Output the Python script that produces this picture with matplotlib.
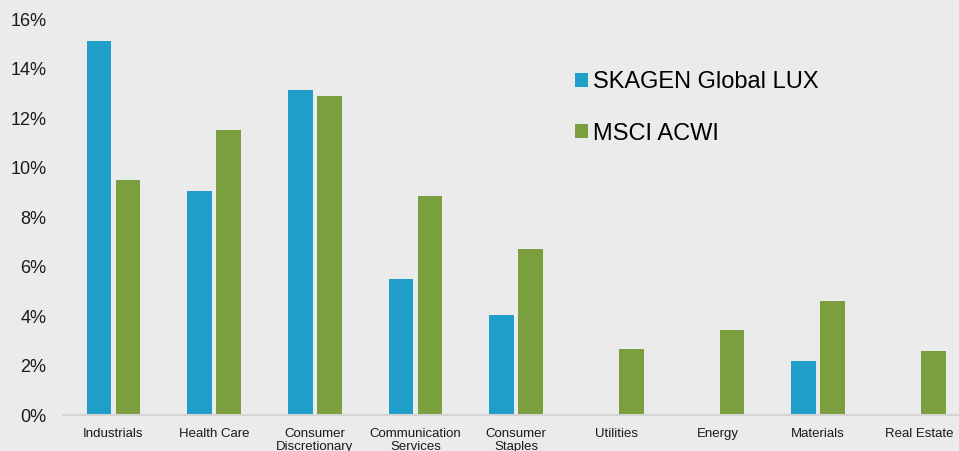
import matplotlib.pyplot as plt
import numpy as np

plt.rcParams['font.family'] = ['Liberation Sans', 'DejaVu Sans']

# Sector weights (%)
sectors = ['Industrials', 'Health Care', 'Consumer\nDiscretionary', 'Communication\nServices',
           'Consumer\nStaples', 'Utilities', 'Energy', 'Materials', 'Real Estate']
skagen = [15.1, 9.05, 13.15, 5.5, 4.05, 0, 0, 2.2, 0]
msci = [9.5, 11.5, 12.9, 8.85, 6.7, 2.65, 3.42, 4.62, 2.6]

bg = '#ebebeb'
blue = '#1f9ec9'
green = '#7b9f3e'

fig = plt.figure(figsize=(9.59, 4.51), dpi=100, facecolor=bg)
ax = fig.add_axes([0.0657, 0.0798, 0.945, 0.878], facecolor=bg)

x = np.arange(len(sectors))
w = 0.245
ax.bar(x - 0.144, skagen, w, color=blue, label='SKAGEN Global LUX')
ax.bar(x + 0.144, msci, w, color=green, label='MSCI ACWI')

ax.set_xlim(-0.5, 8.5)
ax.set_ylim(0, 16)
ax.set_yticks(range(0, 17, 2))
ax.set_yticklabels([f'{v}%' for v in range(0, 17, 2)], fontsize=13, color='#1a1a1a')
ax.set_xticks(x)
ax.set_xticklabels(sectors, fontsize=9.5, color='#1a1a1a', linespacing=1.15)
ax.tick_params(axis='y', length=0, pad=12)
ax.tick_params(axis='x', length=0, pad=9)

for s in ['top', 'right', 'left']:
    ax.spines[s].set_visible(False)
ax.spines['bottom'].set_color('#d4d4d4')
ax.spines['bottom'].set_linewidth(1.5)

ax.legend(loc='upper left', bbox_to_anchor=(575 / 959, 1 - 71 / 451), bbox_transform=fig.transFigure,
          frameon=False, fontsize=17, handlelength=0.55, handleheight=0.55,
          handletextpad=0.2, labelspacing=1.25, borderpad=0, borderaxespad=0)

fig.savefig('out.png', dpi=100, facecolor=bg)
